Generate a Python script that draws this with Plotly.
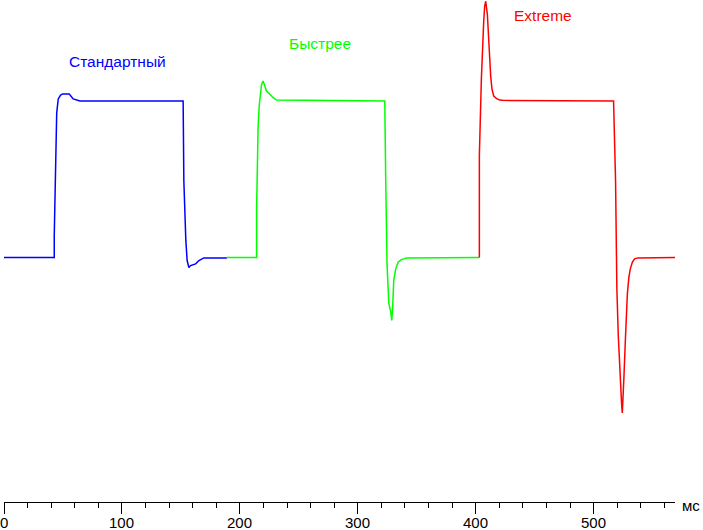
import plotly.graph_objects as go

# ── Data (time in ms, response in % of step) ────────────────────────────────
std_t = [0, 42.6, 42.6, 43.5, 44.1, 44.7, 46.0, 48.0, 49.7, 55.3, 58.7, 64.4,
         151.9, 152.5, 154.2, 155.3, 156.8, 158.2, 162.5, 165.3, 169.5, 189.0]
std_v = [0, 0, 14, 50.3, 71.3, 92.4, 101.3, 103.8, 104.5, 104.5, 101.3, 100,
         100, 49, 10.8, -1.9, -6.4, -5.1, -4.0, -1.9, -0.2, -0.2]

fast_t = [189.0, 214.2, 214.2, 214.7, 215.5, 216.4, 217.5, 218.4, 219.7, 221.2,
          222.6, 225.4, 228.2, 231.1, 322.9, 323.7, 324.8, 326.3, 328.0, 328.8,
          329.4, 330.5, 332.2, 334.2, 337.0, 341.3, 403.1]
fast_v = [0, 0, 31.2, 66.2, 84.1, 96.8, 106.4, 110.6, 112.7, 109.6,
          106.4, 104.3, 102.1, 100.6, 100, 49, -3.8, -29.1, -34.8, -40.1,
          -34.8, -14.6, -7.2, -3.0, -1.3, -0.2, 0]

ext_t = [403.1, 403.1, 404.8, 405.7, 406.8, 407.6, 408.5, 409.9, 411.0, 411.9,
         412.7, 413.8, 415.3, 417.5, 420.3, 422.9, 516.9, 518.6, 519.7, 520.9,
         522.0, 522.9, 523.7, 524.3, 524.8, 525.7, 526.9, 527.7, 528.6, 529.9,
         531.1, 532.8, 534.7, 537.5, 569.0]
ext_v = [0, 65, 114, 136.3, 151, 160.5, 163.7, 155.2, 136.3, 123.6,
         115.9, 107.6, 103.2, 101.7, 100.6, 100.4, 100, 49, -19.7, -49.7,
         -69.9, -82.6, -93.2, -99.2, -93.2, -76.2, -52.9, -35.9, -23.1, -12.5,
         -7.2, -3.0, -0.8, -0.2, 0]

series_names = ["Стандартный", "Быстрее", "Extreme"]
series_colors = ["#0000ff", "#00ff00", "#ff0000"]
label_pos = [(96.6, 125.5), (267.8, 136.9), (456.8, 154.8)]

tick_vals = [0, 100, 200, 300, 400, 500]

FONT = "Arial, Liberation Sans, sans-serif"

fig = go.Figure()
for (t, v), name, col in zip([(std_t, std_v), (fast_t, fast_v), (ext_t, ext_v)],
                             series_names, series_colors):
    fig.add_trace(go.Scatter(x=t, y=v, mode="lines", name=name,
                             line=dict(color=col, width=1.5), showlegend=False,
                             hoverinfo="skip"))

for (lx, ly), name, col in zip(label_pos, series_names, series_colors):
    fig.add_annotation(x=lx, y=ly, text=name, showarrow=False,
                       font=dict(family=FONT, size=15.5, color=col))

# tick labels sit closer to the axis than plotly's default, so place them by hand
for tv in tick_vals:
    fig.add_annotation(x=tv, y=-0.04, xref="x", yref="paper", text=str(tv),
                       showarrow=False, xanchor="center", yanchor="middle",
                       font=dict(family=FONT, size=15, color="black"))

fig.add_annotation(x=1.024, y=-0.006, xref="paper", yref="paper", text="мс",
                   showarrow=False, xanchor="center", yanchor="middle",
                   font=dict(family=FONT, size=15, color="black"))

fig.update_layout(
    width=703, height=530,
    margin=dict(l=4, r=28, t=0, b=28),
    plot_bgcolor="white", paper_bgcolor="white",
    font=dict(family=FONT, size=15, color="black"),
    xaxis=dict(range=[0, 569], showgrid=False, zeroline=False, automargin=False,
               showline=True, linecolor="black", linewidth=1,
               ticks="outside", ticklen=11, tickcolor="black", tickwidth=1,
               tickvals=tick_vals, showticklabels=False,
               minor=dict(ticks="outside", ticklen=5, dtick=20, tick0=0,
                          tickcolor="black", tickwidth=1, showgrid=False)),
    yaxis=dict(range=[-156.1, 164.5], visible=False, automargin=False),
)

# page body has a default 8px margin; drop it so the figure sits at the corner
fig.write_html("out.html", config={"displayModeBar": False},
               post_script="document.body.style.margin='0';")
